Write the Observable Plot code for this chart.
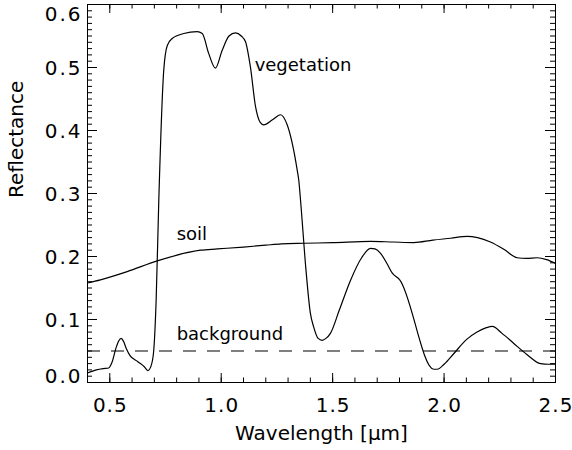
<!DOCTYPE html>
<html>
<head>
<meta charset="utf-8">
<script src="https://cdn.jsdelivr.net/npm/d3@7"></script>
<script src="https://cdn.jsdelivr.net/npm/@observablehq/plot@0.6"></script>
<style>
  html, body { margin: 0; padding: 0; background: #fff; }
  svg { display: block; }
  g[aria-label="x-axis tick label"] text { letter-spacing: 1px; }
  g[aria-label="y-axis tick label"] text { letter-spacing: 2px; }
  g[aria-label="x title"] text { letter-spacing: 0.6px; }
  g[aria-label="y title"] text { letter-spacing: 1.3px; }
</style>
</head>
<body>
<div id="chart"></div>
<script>
// Vegetation reflectance spectrum (wavelength µm, reflectance)
const vegWavelength = [0.40,0.44,0.47,0.495,0.51,0.528,0.540,0.551,0.562,0.575,0.59,0.626,0.655,0.671,0.685,0.697,0.708,0.72,0.742,0.758,0.78,0.832,0.892,0.915,0.944,0.974,1.004,1.035,1.064,1.09,1.109,1.131,1.154,1.175,1.191,1.23,1.266,1.296,1.341,1.348,1.356,1.38,1.40,1.415,1.435,1.453,1.47,1.49,1.53,1.58,1.63,1.67,1.69,1.715,1.745,1.767,1.801,1.954,1.969,2.0,2.044,2.10,2.148,2.19,2.216,2.26,2.313,2.37,2.433,2.47,2.5];
const vegReflectance = [0.015,0.020,0.022,0.023,0.032,0.055,0.066,0.070,0.065,0.053,0.043,0.033,0.025,0.019,0.026,0.05,0.13,0.29,0.495,0.535,0.546,0.554,0.557,0.554,0.522,0.499,0.527,0.550,0.555,0.550,0.541,0.501,0.438,0.413,0.409,0.417,0.425,0.409,0.337,0.321,0.289,0.18,0.11,0.088,0.070,0.067,0.070,0.078,0.115,0.162,0.198,0.213,0.212,0.205,0.188,0.174,0.163,0.021,0.021,0.029,0.046,0.068,0.080,0.087,0.089,0.078,0.062,0.045,0.030,0.029,0.029];

// Soil reflectance spectrum
const soilWavelength = [0.40,0.458,0.578,0.713,0.907,0.983,1.1,1.2,1.27,1.372,1.5,1.67,1.77,1.864,1.95,2.03,2.104,2.15,2.208,2.27,2.328,2.37,2.418,2.46,2.5];
const soilReflectance = [0.158,0.163,0.176,0.193,0.210,0.212,0.215,0.218,0.220,0.221,0.222,0.224,0.223,0.222,0.226,0.229,0.232,0.230,0.223,0.211,0.198,0.197,0.198,0.195,0.189];

// Background level
const backgroundLevel = [0.05];

// Annotation labels
const labelNames = ["vegetation", "soil", "background"];
const labelX = [1.15, 0.80, 0.80];
const labelY = [0.503, 0.236, 0.0766];

// Ticks
const xMajorTicks = [0.5, 1.0, 1.5, 2.0, 2.5];
const xMinorTicks = d3.range(4, 26).map(d => d / 10);
const yMajorTicks = [0.0, 0.1, 0.2, 0.3, 0.4, 0.5, 0.6];
const yMinorTicks = d3.range(0, 61).map(d => d / 100);
const yMidLabels = [0.1, 0.2, 0.3, 0.4, 0.5];

const veg = vegWavelength.map((x, i) => ({x, y: vegReflectance[i]}));
const soil = soilWavelength.map((x, i) => ({x, y: soilReflectance[i]}));
const labels = labelNames.map((t, i) => ({t, x: labelX[i], y: labelY[i]}));

const W = 572, H = 450;
const mL = 87, mR = 17, mT = 4, mB = 68;
const pw = W - mL - mR, ph = H - mT - mB;
const fmt = d3.format(".1f");
const font = "'DejaVu Sans', sans-serif";

const chart = Plot.plot({
  width: W,
  height: H,
  marginLeft: mL,
  marginRight: mR,
  marginTop: mT,
  marginBottom: mB,
  style: {fontFamily: font, background: "#fff", color: "#000"},
  x: {domain: [0.4, 2.5], axis: null},
  y: {domain: [0, 0.6], axis: null},
  marks: [
    // ticks bottom/top
    Plot.tickX(xMinorTicks, {x: d => d, insetTop: ph - 4.5, stroke: "#000"}),
    Plot.tickX(xMinorTicks, {x: d => d, insetBottom: ph - 4.5, stroke: "#000"}),
    Plot.tickX(xMajorTicks, {x: d => d, insetTop: ph - 9, stroke: "#000"}),
    Plot.tickX(xMajorTicks, {x: d => d, insetBottom: ph - 9, stroke: "#000"}),
    // ticks left/right
    Plot.tickY(yMinorTicks, {y: d => d, insetRight: pw - 5, stroke: "#000"}),
    Plot.tickY(yMinorTicks, {y: d => d, insetLeft: pw - 5, stroke: "#000"}),
    Plot.tickY(yMajorTicks, {y: d => d, insetRight: pw - 10, stroke: "#000"}),
    Plot.tickY(yMajorTicks, {y: d => d, insetLeft: pw - 10, stroke: "#000"}),
    // tick labels
    Plot.axisX({ticks: xMajorTicks, tickFormat: fmt, tickSize: 0, tickPadding: 15, fontSize: 20, anchor: "bottom", label: null, dx: 0.5}),
    Plot.axisY({ticks: yMidLabels, tickFormat: fmt, tickSize: 0, tickPadding: 5, fontSize: 20, anchor: "left", label: null, dy: 1.5}),
    Plot.axisY({ticks: [0.6], tickFormat: fmt, tickSize: 0, tickPadding: 5, fontSize: 20, anchor: "left", label: null, dy: 10.5}),
    Plot.axisY({ticks: [0.0], tickFormat: fmt, tickSize: 0, tickPadding: 5, fontSize: 20, anchor: "left", label: null, dy: -6}),
    // background dashed line
    Plot.ruleY(backgroundLevel, {y: d => d, stroke: "#000", strokeWidth: 1.2, strokeDasharray: "13,11"}),
    // curves
    Plot.line(soil, {x: "x", y: "y", stroke: "#000", strokeWidth: 1.2, curve: "monotone-x"}),
    Plot.line(veg, {x: "x", y: "y", stroke: "#000", strokeWidth: 1.2, curve: "monotone-x"}),
    // annotations
    Plot.text(labels, {x: "x", y: "y", text: "t", textAnchor: "start", fontSize: 18, fill: "#000"}),
    // axis titles
    Plot.text(["Wavelength [μm]"], {frameAnchor: "bottom", dy: 57, fontSize: 20, fill: "#000", ariaLabel: "x title"}),
    Plot.text(["Reflectance"], {frameAnchor: "left", dx: -71, dy: 4.5, rotate: -90, fontSize: 20, fill: "#000", ariaLabel: "y title"}),
    Plot.frame({stroke: "#000"})
  ]
});
document.getElementById("chart").appendChild(chart);
</script>
</body>
</html>
